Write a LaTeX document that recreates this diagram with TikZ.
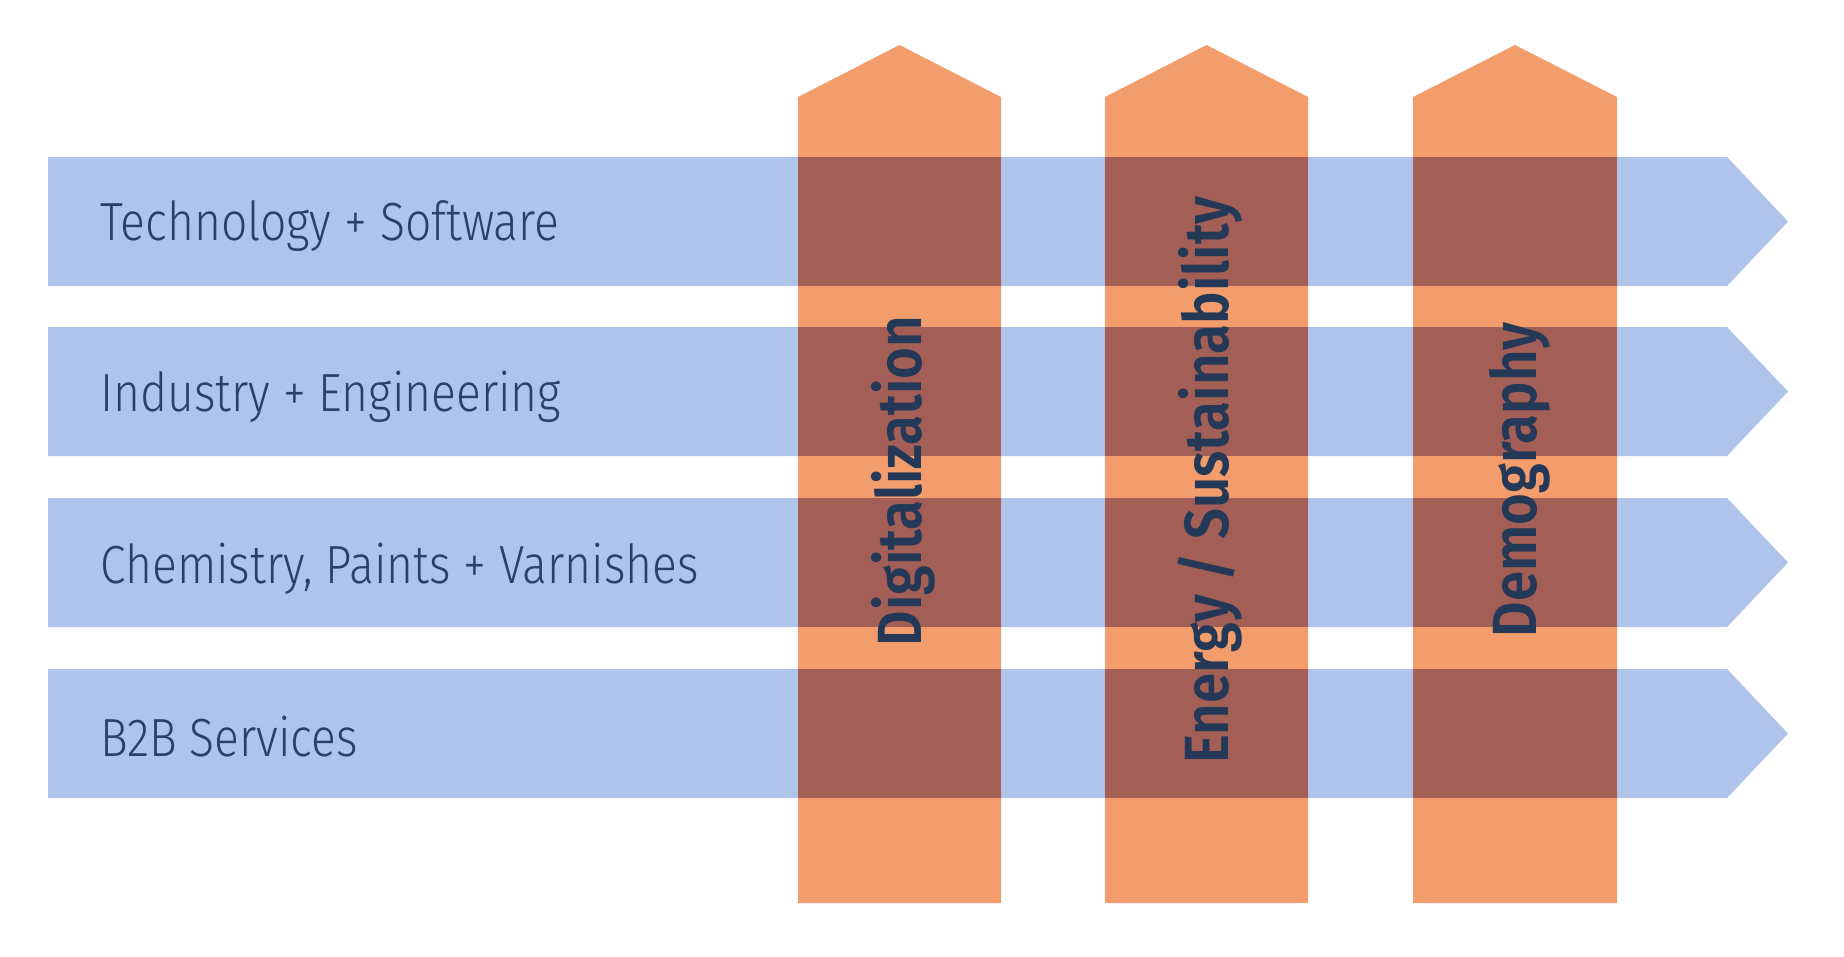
\documentclass[tikz,border=0pt]{standalone}
\usepackage{fontspec}
\setmainfont{Fira Sans Light}
\newfontfamily\semif{Fira Sans SemiBold}
\definecolor{bandblue}{HTML}{AFC3EB}
\definecolor{barorange}{HTML}{F29D6B}
\definecolor{overlap}{HTML}{A35E55}
\definecolor{labeltext}{HTML}{2A4068}
\definecolor{vtext}{HTML}{243857}
\newcommand{\rowtxt}[1]{\scalebox{0.86}[1]{#1}}
\newcommand{\coltxt}[1]{\scalebox{0.875}[1]{#1}}
\tikzset{
  band/.style={fill=bandblue},
  bar/.style={fill=barorange},
  cross/.style={fill=overlap},
  rowlabel/.style={anchor=base west, inner sep=0pt, text=labeltext, font=\fontsize{40.3pt}{48pt}\selectfont},
  collabel/.style={anchor=base, rotate=90, inner sep=0pt, text=vtext, font=\semif\fontsize{46.8pt}{56pt}\selectfont}
}
\begin{document}
\begin{tikzpicture}[x=0.75pt,y=-0.75pt]
\useasboundingbox (0,0) rectangle (1844,956);
% bands
\foreach \t/\b in {157/286, 327/456, 498/627, 669/798}{
  \fill[band] (48,\t) -- (1727,\t) -- (1788,{(\t+\b)/2}) -- (1727,\b) -- (48,\b) -- cycle;
}
% bars
\foreach \l/\r in {798/1001, 1105/1308, 1413/1617}{
  \fill[bar] (\l,903) -- (\l,97) -- ({(\l+\r)/2},45) -- (\r,97) -- (\r,903) -- cycle;
  \foreach \t/\b in {157/286, 327/456, 498/627, 669/798}{
    \fill[cross] (\l,\t) rectangle (\r,\b);
  }
}
% row labels
\node[rowlabel] (r1) at (100,240) {\rowtxt{Technology + Software}};
\node[rowlabel] (r2) at (100,411) {\rowtxt{Industry + Engineering}};
\node[rowlabel] (r3) at (100,583) {\rowtxt{Chemistry, Paints + Varnishes}};
\node[rowlabel] (r4) at (100,756) {\rowtxt{B2B Services}};
% column labels
\node[collabel] (c1) at (921,481) {\coltxt{Digitalization}};
\node[collabel] (c2) at (1228,480) {\coltxt{Energy / Sustainability}};
\node[collabel] (c3) at (1536,480) {\coltxt{Demography}};
\end{tikzpicture}
\end{document}
